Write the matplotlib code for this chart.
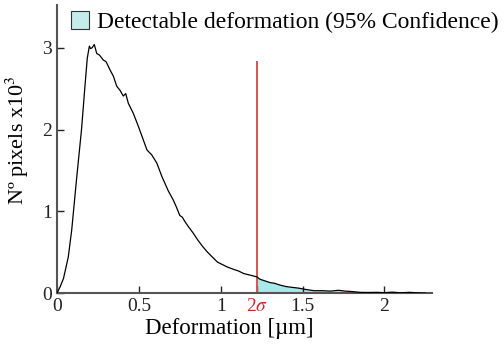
import matplotlib
matplotlib.use("Agg")
import matplotlib.pyplot as plt
import numpy as np
from matplotlib.patches import Patch

# ======================= data =======================
deform = [0.00, 0.02, 0.04, 0.069, 0.09, 0.12, 0.15, 0.171, 0.185, 0.198, 0.205,
          0.215, 0.228, 0.243, 0.26, 0.283, 0.30, 0.324, 0.345, 0.365, 0.385,
          0.405, 0.42, 0.436, 0.466, 0.497, 0.528, 0.55, 0.579, 0.61, 0.64,
          0.68, 0.71, 0.73, 0.75, 0.765, 0.78, 0.80, 0.83, 0.86, 0.89, 0.92,
          0.95, 0.98, 1.01, 1.04, 1.08, 1.11, 1.14, 1.18, 1.22, 1.24, 1.27,
          1.30, 1.33, 1.36, 1.40, 1.44, 1.48, 1.52, 1.57, 1.62, 1.67, 1.72,
          1.76, 1.80, 1.85, 1.90, 1.95, 2.00, 2.05, 2.10, 2.15, 2.20, 2.25]
pixels = [0.00, 0.08, 0.18, 0.44, 0.77, 1.40, 2.00, 2.53, 2.87, 3.02, 2.99,
          3.00, 3.04, 2.93, 2.91, 2.85, 2.83, 2.73, 2.65, 2.53, 2.48,
          2.41, 2.44, 2.32, 2.20, 2.04, 1.87, 1.75, 1.69, 1.59, 1.43,
          1.25, 1.14, 1.05, 0.95, 0.93, 0.88, 0.82, 0.74, 0.65, 0.57, 0.50,
          0.44, 0.38, 0.35, 0.32, 0.29, 0.27, 0.24, 0.22, 0.20, 0.17, 0.15,
          0.13, 0.12, 0.10, 0.08, 0.07, 0.06, 0.045, 0.03, 0.03, 0.025, 0.035,
          0.025, 0.02, 0.01, 0.008, 0.01, 0.006, 0.012, 0.004, 0.01, 0.004, 0.0]
two_sigma = 1.22
sigma_top = 2.83
xticks = [0, 0.5, 1, two_sigma, 1.5, 2]
xticklabels = ["0", "0.5", "1", r"2$\sigma$", "1.5", "2"]
yticks = [0, 1, 2, 3]
legend_text = "Detectable deformation (95% Confidence)"
# ===========================================================================

plt.rcParams["font.family"] = ["Liberation Serif", "DejaVu Serif"]
plt.rcParams["mathtext.fontset"] = "stix"

x = np.array(deform)
y = np.array(pixels)

fig = plt.figure(figsize=(5.04, 3.49), dpi=100)
ax = fig.add_axes([0.113, 0.160, 0.744, 0.825])

mask = x >= two_sigma
ax.fill_between(x[mask], 0, y[mask], color="#a6e9ea", lw=0, zorder=1)
ax.plot(x, y, color="black", lw=0.9, zorder=3)
ax.plot([two_sigma, two_sigma], [0, sigma_top], color="#d9534f", lw=1.4, zorder=2)

ax.set_xlim(0, 2.29)
ax.set_ylim(0, 3.52)
ax.set_xticks(xticks)
ax.set_xticklabels(xticklabels)
ax.set_yticks(yticks)
ax.tick_params(direction="in", length=5, width=1, labelsize=14, colors="#222222")
ax.get_xticklabels()[3].set_color("#c8282a")
for s in ["top", "right"]:
    ax.spines[s].set_visible(False)
for s in ["left", "bottom"]:
    ax.spines[s].set_linewidth(1.5)
    ax.spines[s].set_color("#555555")

ax.set_xlabel("Deformation [µm]", fontsize=16.5, labelpad=1)
ax.xaxis.set_label_coords(0.459, -0.085)
ax.set_ylabel(r"Nº pixels x10$^3$", fontsize=16)
ax.yaxis.set_label_coords(-0.07, 0.531)

handle = Patch(facecolor="#c4eceb", edgecolor="#333333", lw=0.8)
ax.legend([handle], [legend_text], loc="upper left", bbox_to_anchor=(0.012, 1.012),
          frameon=False, fontsize=17, handlelength=0.75, handleheight=0.75,
          handletextpad=0.35, borderaxespad=0)

fig.savefig("out.png", dpi=100)
